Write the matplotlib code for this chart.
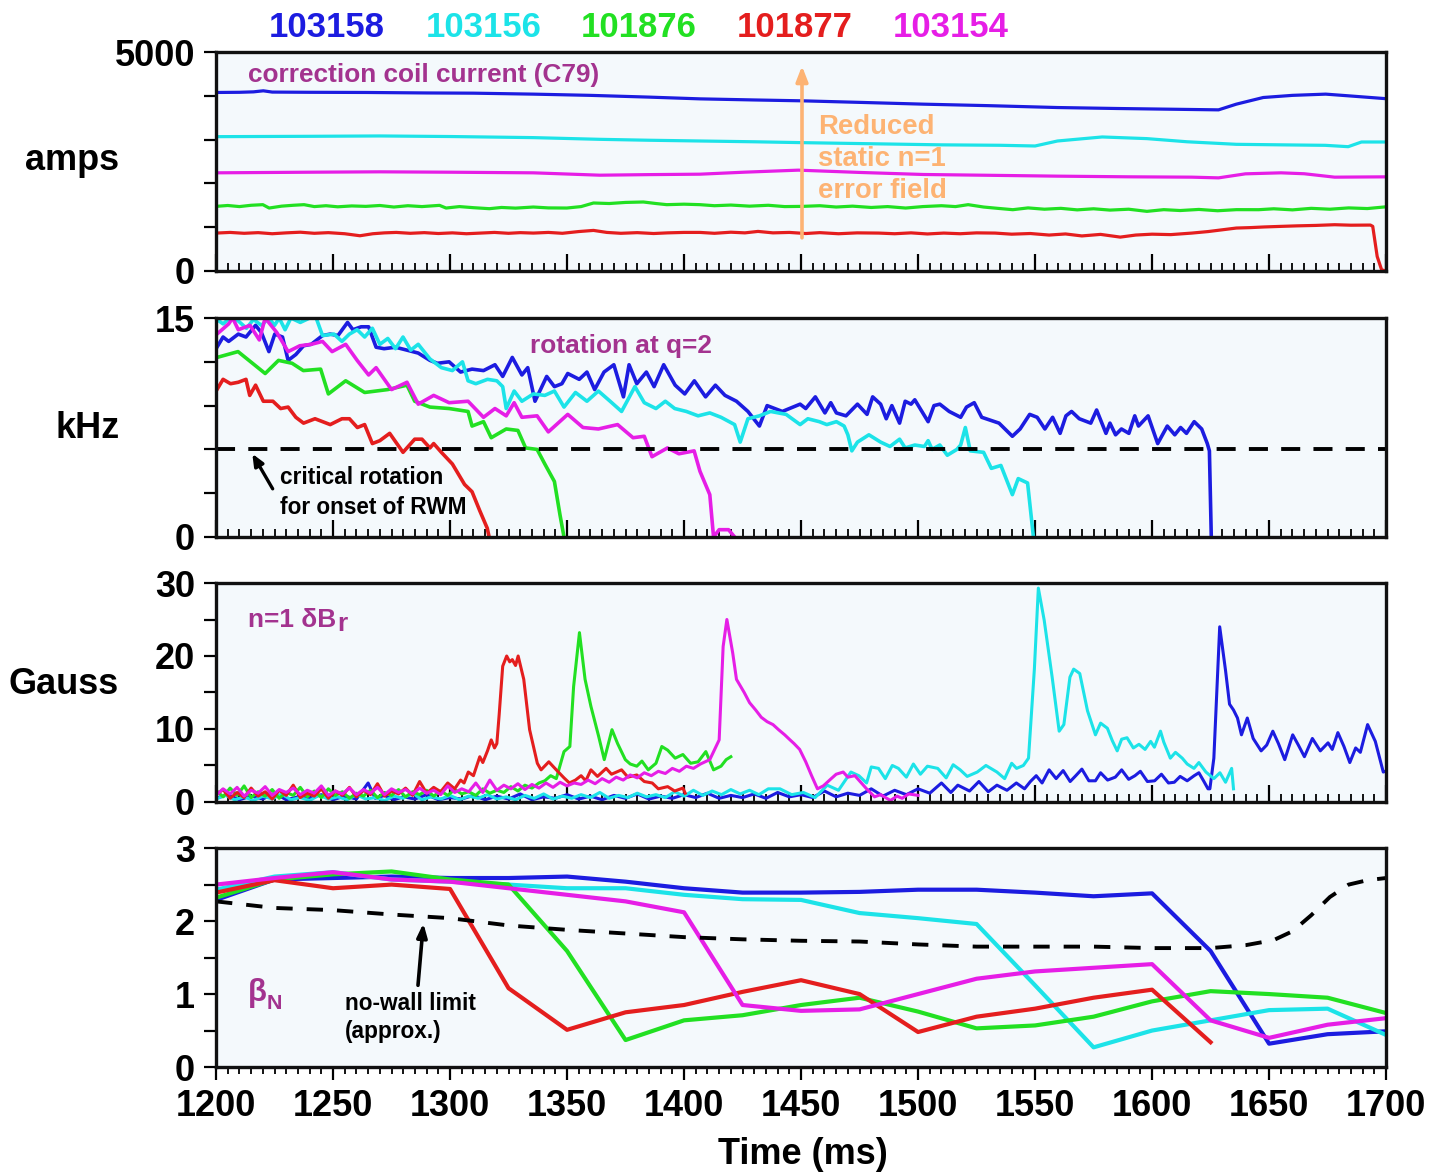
"""Shot comparison: correction coil current, q=2 rotation, n=1 dBr and beta_N vs time."""

import matplotlib

matplotlib.use("Agg")
import matplotlib.pyplot as plt
import numpy as np
from matplotlib import font_manager as fm
from matplotlib.ticker import MultipleLocator

# ---- shots and colours -------------------------------------------------------
SHOTS = ["103158", "103156", "101876", "101877", "103154"]
SHOT_COLORS = ["#1c1ce0", "#1ce3e8", "#22e022", "#e41e1e", "#e61ee6"]
LABEL_PURPLE = "#a3338f"
ARROW_ORANGE = "#fdb373"

# ---- correction coil current (A), (time ms, value) ---------------------------
COIL_103158 = [(1200, 4076), (1210, 4080), (1216, 4090), (1220.2, 4114), (1224, 4085),
               (1240, 4080), (1264.4, 4076), (1290, 4065), (1310, 4060), (1335.6, 4038),
               (1360, 4010), (1385, 3970), (1406.8, 3930), (1430, 3905), (1450.7, 3885),
               (1475, 3850), (1502.3, 3809), (1530, 3775), (1559.6, 3732), (1585, 3710),
               (1607.4, 3694), (1628.4, 3679), (1636, 3809), (1647.5, 3961), (1660, 4010),
               (1674.2, 4038), (1683.8, 4000), (1699, 3938)]
COIL_103156 = [(1200, 3067), (1240, 3075), (1270, 3083), (1300, 3070), (1335.6, 3045),
               (1364, 3006), (1385, 2985), (1406.8, 2968), (1430, 2950), (1450.7, 2930),
               (1480, 2905), (1510, 2880), (1535, 2870), (1550, 2854), (1559.6, 2968),
               (1578.7, 3060), (1597.8, 3022), (1615, 2950), (1636, 2892), (1655, 2880),
               (1674, 2869), (1683.8, 2838), (1689.5, 2945), (1699, 2945)]
COIL_101876 = [(1200, 1475), (1205, 1495), (1210, 1470), (1215, 1500), (1220, 1514),
               (1222.7, 1437), (1228, 1480), (1233, 1500), (1237.6, 1514), (1242, 1470),
               (1247, 1490), (1252, 1465), (1258, 1485), (1264, 1475), (1270, 1495),
               (1276, 1460), (1282, 1490), (1288, 1470), (1295.5, 1498), (1298.3, 1437),
               (1304, 1470), (1310, 1445), (1316.8, 1422), (1322, 1450), (1328, 1435),
               (1335.6, 1460), (1342, 1440), (1349.9, 1437), (1356, 1470), (1361.3, 1552),
               (1368, 1540), (1375, 1565), (1382.6, 1575), (1388, 1540), (1392.6, 1514),
               (1400, 1525), (1406.8, 1514), (1413, 1490), (1420, 1505), (1428, 1480),
               (1436, 1500), (1443, 1470), (1450.7, 1475), (1458, 1490), (1465, 1460),
               (1472, 1480), (1480, 1450), (1487, 1470), (1494.7, 1437), (1502, 1470),
               (1510, 1490), (1516, 1470), (1521.4, 1514), (1528, 1460), (1534, 1430),
               (1540.5, 1399), (1547, 1440), (1554, 1410), (1561, 1430), (1568, 1395),
               (1575, 1420), (1582, 1390), (1590, 1410), (1597.8, 1361), (1605, 1400),
               (1612, 1380), (1620, 1405), (1628, 1375), (1636, 1400), (1645.6, 1399),
               (1652, 1420), (1660, 1395), (1668, 1430), (1676, 1410), (1684, 1440),
               (1692, 1425), (1699, 1460)]
COIL_101877 = [(1200, 865), (1206, 880), (1212, 860), (1218, 875), (1224, 850), (1230, 870),
               (1236, 885), (1242, 860), (1248, 875), (1255, 850), (1261.5, 804), (1267, 850),
               (1272, 870), (1277, 880), (1283, 860), (1289, 875), (1295, 855), (1301, 870),
               (1307, 850), (1313, 865), (1319, 880), (1325, 860), (1330, 875), (1335.6, 865),
               (1342, 880), (1348, 860), (1355, 900), (1361.3, 926), (1367, 880), (1373, 860),
               (1380, 875), (1387, 855), (1393, 870), (1400, 880), (1406.8, 880), (1413, 860),
               (1420, 885), (1426, 870), (1431.6, 903), (1438, 870), (1445, 880), (1452, 855),
               (1458, 875), (1466, 850), (1474, 870), (1483.2, 865), (1490, 850), (1497, 870),
               (1504, 845), (1511, 865), (1518, 850), (1525, 870), (1532.9, 865), (1540, 840),
               (1548, 855), (1556, 820), (1563, 845), (1570, 800), (1578, 835), (1586.4, 773),
               (1593, 820), (1600, 840), (1608, 830), (1617, 865), (1624, 900), (1630, 940),
               (1636, 980), (1642, 990), (1648, 1005), (1655, 1018), (1662, 1030), (1670, 1040),
               (1678, 1056), (1685, 1045), (1693.3, 1048), (1694.3, 1018), (1696.2, 330),
               (1698.1, 25), (1700, 0)]
COIL_103154 = [(1200, 2241), (1240, 2255), (1270, 2264), (1300, 2255), (1335.6, 2241),
               (1364, 2187), (1385, 2200), (1406.8, 2210), (1425.9, 2256), (1448.8, 2302),
               (1475, 2250), (1502.3, 2203), (1530, 2185), (1559.6, 2165), (1590, 2150),
               (1617, 2142), (1628.4, 2126), (1639.9, 2218), (1655.1, 2241), (1665, 2220),
               (1678, 2142), (1699, 2149)]

# ---- toroidal rotation at q=2 (kHz) ------------------------------------------
ROT_103158 = [(1200.4, 13.0), (1203, 13.7), (1205.4, 13.4), (1209.5, 13.9), (1212.8, 13.7),
              (1216.9, 14.5), (1219.4, 14.0), (1222.6, 12.7), (1225.1, 13.9), (1228.4, 13.7),
              (1230.8, 12.1), (1234.1, 12.5), (1237.4, 13.1), (1240.7, 13.2), (1245.5, 13.8),
              (1248.8, 13.9), (1252.1, 13.8), (1256.2, 14.7), (1258.5, 14.2), (1262, 14.4),
              (1265.2, 14.4), (1268.4, 13.0), (1271.8, 12.9), (1276.7, 13.0), (1281.6, 12.8),
              (1286.4, 12.6), (1291.4, 12.1), (1294.6, 11.9), (1299.6, 12.0), (1304.5, 11.3),
              (1309.4, 11.5), (1314.3, 11.4), (1319.2, 11.8), (1322.5, 11.0), (1326.6, 12.3),
              (1330.7, 11.1), (1333.2, 11.6), (1336.3, 9.3), (1341.3, 11.0), (1344.6, 10.3),
              (1347.8, 10.5), (1350.3, 11.2), (1355.2, 10.8), (1358.5, 11.3), (1361.8, 10.1),
              (1365.8, 11.3), (1370, 11.8), (1374.1, 9.6), (1376.5, 11.8), (1379.8, 10.5),
              (1383.9, 11.3), (1387.2, 10.3), (1391.3, 11.8), (1396.2, 10.4), (1400.3, 9.8),
              (1404.4, 10.7), (1409.2, 9.6), (1413.4, 10.4), (1417.5, 9.7), (1422.4, 9.3),
              (1427.3, 8.6), (1432.2, 7.6), (1435.5, 9.0), (1442, 8.6), (1449.6, 9.1),
              (1452, 8.8), (1456.1, 9.6), (1460.2, 8.5), (1462.7, 9.2), (1465.1, 8.5),
              (1469.2, 8.3), (1474.1, 9.1), (1478.2, 8.4), (1480.6, 9.6), (1484, 9.1),
              (1486.4, 8.1), (1488.8, 9.0), (1492.1, 7.8), (1494.5, 9.3), (1497, 9.1),
              (1498.6, 9.4), (1504.3, 7.9), (1506.8, 9.0), (1509.3, 9.1), (1513.3, 8.6),
              (1518.2, 8.2), (1520.7, 8.9), (1524, 9.2), (1527.2, 8.2), (1534.6, 7.8),
              (1540.3, 6.9), (1543.6, 7.4), (1547.7, 8.4), (1550.9, 8.2), (1554.2, 7.4),
              (1557.5, 8.2), (1560.7, 7.1), (1563.2, 8.3), (1565.6, 8.6), (1568.9, 8.1),
              (1573.8, 7.8), (1576.3, 8.7), (1580.3, 7.1), (1582, 7.8), (1584.4, 7.0),
              (1586.9, 7.4), (1590.1, 7.1), (1592.6, 8.3), (1594.2, 7.6), (1598.3, 8.3),
              (1602.4, 6.4), (1606.5, 7.6), (1609.7, 7.0), (1612.2, 7.5), (1614.7, 7.1),
              (1618, 7.9), (1621.2, 7.4), (1623.6, 6.4), (1624.5, 5.9), (1625.3, 0.0)]
ROT_103156 = [(1200.4, 14.9), (1203, 14.6), (1206, 15.0), (1209.5, 14.8), (1213, 14.3),
              (1216, 14.9), (1219.4, 14.5), (1222.6, 15.0), (1225, 14.5), (1227, 15.0),
              (1229.5, 14.2), (1232, 15.0), (1236, 14.7), (1240, 15.0), (1242.8, 15.0),
              (1245.5, 13.8), (1250.4, 13.9), (1253.8, 13.4), (1257, 13.9), (1260.3, 14.2),
              (1263.5, 13.7), (1266.8, 14.3), (1270, 13.2), (1273.4, 13.6), (1276.7, 12.9),
              (1279.9, 13.7), (1283.2, 12.8), (1286.4, 13.2), (1291.4, 12.2), (1296.3, 11.6),
              (1301, 11.4), (1305.3, 12.0), (1307.7, 10.7), (1311, 10.5), (1316, 10.8),
              (1320, 10.7), (1322.5, 10.3), (1324, 8.8), (1327.4, 10.0), (1330.7, 9.3),
              (1335.6, 9.8), (1340.5, 9.7), (1344.6, 10.0), (1348.7, 8.9), (1353.6, 9.9),
              (1358.5, 9.3), (1363.4, 10.0), (1368.4, 9.3), (1373.3, 8.6), (1379, 10.3),
              (1383, 9.2), (1388, 8.8), (1392, 9.3), (1396, 8.8), (1401, 8.6), (1406, 8.3),
              (1411, 8.5), (1415.8, 8.2), (1421.6, 7.7), (1424, 6.5), (1427.3, 8.1),
              (1432.2, 8.3), (1437, 8.6), (1443.6, 8.4), (1449.6, 7.7), (1452.9, 8.1),
              (1457.8, 7.9), (1461, 7.7), (1465.1, 7.9), (1468.4, 7.6), (1470, 7.0),
              (1471.7, 5.9), (1474.1, 6.5), (1479, 7.0), (1484, 6.5), (1488, 6.2),
              (1492.1, 6.7), (1494.5, 6.1), (1498.6, 6.3), (1502.7, 6.2), (1504.3, 6.6),
              (1506, 6.0), (1509.3, 6.3), (1512.5, 5.6), (1516.6, 6.0), (1518.2, 6.3),
              (1520.2, 7.5), (1522.3, 5.9), (1528, 5.8), (1531.3, 4.7), (1535.4, 4.9),
              (1540.3, 2.9), (1542.8, 4.0), (1546.8, 3.7), (1549.3, 0.0)]
ROT_101876 = [(1200.4, 12.3), (1209.4, 12.7), (1221, 11.2), (1226.7, 12.1), (1232.5, 11.9),
              (1237.3, 11.4), (1244.7, 11.5), (1248, 9.8), (1255.4, 10.7), (1263.5, 9.9),
              (1273.4, 10.1), (1281.6, 10.4), (1284.9, 9.3), (1291.4, 8.9), (1299.6, 8.8),
              (1307.7, 8.6), (1309.4, 7.6), (1314.3, 7.9), (1317.6, 6.8), (1324, 7.4),
              (1329, 7.3), (1332.3, 6.1), (1337.2, 6.0), (1340.5, 5.0), (1344.6, 3.8),
              (1347, 1.5), (1348.7, 0.0)]
ROT_101877 = [(1200.4, 10.1), (1203, 10.8), (1206.2, 10.5), (1209.5, 10.6), (1212.8, 10.8),
              (1214.4, 9.7), (1216.9, 10.4), (1220.2, 9.3), (1224.3, 9.3), (1227.6, 8.8),
              (1230.8, 8.9), (1234.1, 8.2), (1237.4, 7.8), (1242.3, 8.1), (1248.8, 7.7),
              (1253.8, 8.1), (1257, 8.1), (1260.4, 7.5), (1263.5, 7.7), (1266.8, 6.4),
              (1270, 6.6), (1274.2, 7.1), (1279.9, 5.8), (1284.9, 6.7), (1288, 6.7),
              (1291.4, 6.1), (1293, 6.4), (1296.3, 5.8), (1301, 5.0), (1306.2, 3.6),
              (1309.4, 3.1), (1312.7, 1.8), (1315.9, 0.6), (1316.7, 0.0)]
ROT_103154 = [(1200.4, 13.9), (1205.4, 14.6), (1207.1, 15.0), (1209.5, 14.2), (1214.5, 14.5),
              (1218.5, 13.5), (1221, 15.0), (1226, 14.0), (1230.8, 12.7), (1235.8, 13.1),
              (1240.7, 13.2), (1245.5, 13.4), (1249.6, 12.7), (1255.4, 13.2), (1260.3, 12.1),
              (1265.2, 11.1), (1268.4, 11.6), (1275, 10.1), (1281.6, 10.6), (1286.4, 9.1),
              (1293, 9.7), (1299.6, 9.2), (1307.7, 9.3), (1314.3, 8.2), (1319.2, 8.8),
              (1324, 8.3), (1327.4, 9.2), (1330.7, 8.2), (1337.2, 8.3), (1342, 7.2),
              (1350.3, 8.4), (1356.8, 7.5), (1363.4, 7.4), (1371.6, 7.7), (1378.2, 6.8),
              (1383, 6.9), (1386.3, 5.5), (1392.9, 6.1), (1397.8, 5.7), (1404.3, 5.9),
              (1406.8, 4.5), (1411, 2.9), (1412.6, 0.0), (1415, 0.5), (1419, 0.5),
              (1421.6, 0.0)]
CRITICAL_ROTATION = 6.0

# ---- n=1 dBr (G) --------------------------------------------------------------
BR_103158 = [(1200, 0.5), (1205, 1.0), (1210, 0.3), (1215, 0.8), (1220, 0.4), (1225, 1.2),
             (1230, 0.3), (1235, 0.7), (1240, 0.5), (1245, 1.0), (1250, 0.3), (1255, 0.8),
             (1260, 0.4), (1265, 2.6), (1268, 0.5), (1272, 0.9), (1276, 0.3), (1280, 0.7),
             (1285, 0.4), (1290, 1.0), (1295, 0.3), (1300, 0.6), (1305, 0.4), (1310, 0.9),
             (1315, 0.3), (1320, 0.8), (1325, 0.4), (1330, 1.1), (1335, 0.3), (1340, 0.7),
             (1345, 0.5), (1350, 1.0), (1355, 0.4), (1360, 0.8), (1365, 0.3), (1370, 0.9),
             (1375, 0.5), (1380, 1.1), (1385, 0.4), (1390, 0.8), (1395, 0.5), (1400, 1.0),
             (1405, 0.6), (1410, 1.2), (1415, 0.5), (1420, 0.9), (1425, 0.6), (1430, 1.1),
             (1435, 0.5), (1440, 1.3), (1445, 0.7), (1450, 1.0), (1455, 0.6), (1460, 1.5),
             (1465, 0.7), (1470, 1.2), (1475, 0.9), (1480, 1.8), (1485, 0.8), (1490, 1.6),
             (1495, 1.0), (1500, 1.8), (1505, 1.2), (1510, 2.6), (1514, 1.3), (1517, 2.3),
             (1522, 1.5), (1526, 2.8), (1530, 1.4), (1533.7, 2.3), (1538, 1.6), (1542, 2.6),
             (1545.5, 1.8), (1548, 2.8), (1550.5, 3.6), (1553, 2.6), (1556, 4.4), (1559, 3.2),
             (1562, 4.3), (1565, 2.8), (1567.4, 3.6), (1570, 4.5), (1573, 2.9), (1575.8, 2.9),
             (1578, 4.0), (1581, 3.0), (1584.3, 3.4), (1587, 4.4), (1590, 3.1), (1592.7, 3.6),
             (1595, 4.2), (1598, 2.8), (1601.1, 2.9), (1604, 3.8), (1607, 2.6), (1609.5, 2.7),
             (1612, 3.5), (1615, 2.9), (1618, 3.6), (1620, 4.0), (1622, 2.9), (1623.9, 1.8),
             (1624.7, 1.8), (1626.4, 6.0), (1628.9, 24.0), (1631.4, 18.0), (1633.1, 13.4),
             (1634.8, 12.6), (1636.5, 11.5), (1638.2, 9.2), (1640.7, 11.5), (1643.2, 8.7),
             (1646.6, 7.0), (1649, 7.8), (1651.6, 9.7), (1654, 8.0), (1656.7, 5.8),
             (1660.1, 9.2), (1662.5, 7.8), (1665.1, 6.2), (1668.5, 8.7), (1671.9, 7.0),
             (1675.2, 8.1), (1677, 7.2), (1679.4, 9.5), (1682, 7.6), (1684.5, 5.4),
             (1687, 7.4), (1689, 6.8), (1692.1, 10.6), (1695.4, 8.3), (1698.8, 4.1),
             (1699.7, 4.2)]
BR_103156 = [(1200, 0.4), (1204, 0.9), (1208, 0.3), (1212, 0.7), (1216, 0.2), (1220, 0.8),
             (1224, 0.4), (1228, 1.1), (1232, 0.3), (1236, 0.6), (1240, 0.2), (1244, 0.9),
             (1248, 0.4), (1252, 0.7), (1256, 0.3), (1260, 1.0), (1264, 0.4), (1268, 0.6),
             (1272, 0.2), (1276, 0.8), (1280, 0.5), (1284, 1.2), (1288, 0.3), (1292, 0.7),
             (1296, 0.4), (1300, 0.9), (1304, 0.3), (1308, 0.8), (1312, 0.5), (1316, 1.0),
             (1320, 0.4), (1324, 0.7), (1328, 0.3), (1332, 0.9), (1336, 0.5), (1340, 1.1),
             (1344, 0.4), (1348, 0.8), (1352, 0.5), (1356, 1.0), (1360, 0.6), (1364, 1.3),
             (1368, 0.5), (1372, 0.9), (1376, 0.6), (1380, 1.2), (1384, 0.7), (1388, 1.0),
             (1392, 0.6), (1396, 1.4), (1400, 0.8), (1404, 1.6), (1408, 0.9), (1412, 1.5),
             (1416, 1.0), (1420, 1.7), (1424, 1.1), (1428, 1.6), (1432, 1.0), (1436, 1.8),
             (1441, 1.8), (1446, 1.0), (1451, 1.3), (1456, 0.6), (1461.2, 2.3), (1466, 1.6),
             (1471.3, 4.1), (1474.7, 3.6), (1478, 2.6), (1480, 4.8), (1483.1, 4.6), (1486, 3.2),
             (1489, 5.0), (1491.6, 4.6), (1495, 3.4), (1498, 5.2), (1501, 3.8), (1504, 4.9),
             (1508.4, 4.6), (1512, 3.3), (1515, 5.1), (1518, 4.4), (1521, 3.5), (1525.3, 4.1),
             (1529, 5.0), (1533.7, 4.1), (1537, 3.2), (1540, 5.3), (1542.1, 4.6), (1545, 5.0),
             (1547.2, 6.0), (1549.7, 18.2), (1551.4, 29.3), (1553.9, 24.9), (1557.3, 17.1),
             (1560.3, 9.7), (1562.3, 10.6), (1564.9, 17.1), (1566.5, 18.2), (1569.1, 17.6),
             (1572.4, 12.5), (1575.8, 9.2), (1578, 10.8), (1580.9, 10.1), (1583, 8.4),
             (1585.1, 7.0), (1587, 8.6), (1589.3, 8.8), (1592, 7.4), (1594.4, 7.9),
             (1597, 7.2), (1599.4, 8.3), (1601, 7.5), (1603.6, 9.7), (1605, 8.2),
             (1607.8, 6.0), (1610, 6.8), (1612.9, 6.0), (1615, 5.2), (1617.9, 4.6),
             (1620, 5.4), (1623, 4.1), (1626.4, 3.2), (1629, 4.0), (1631.4, 2.7),
             (1634, 4.6), (1634.8, 1.8)]
BR_101876 = [(1200, 1.6), (1203, 0.7), (1206, 1.9), (1209, 0.9), (1212, 2.2), (1215, 0.6),
             (1218, 1.4), (1221, 0.8), (1224, 1.7), (1227, 0.5), (1230, 1.3), (1233, 0.9),
             (1236, 2.0), (1239, 0.7), (1242, 1.5), (1245, 0.6), (1248, 1.8), (1251, 0.9),
             (1254, 1.4), (1257, 0.5), (1260, 1.2), (1263, 0.8), (1266, 1.6), (1269, 0.6),
             (1272, 1.3), (1275, 0.9), (1278, 1.7), (1281, 0.7), (1284, 1.4), (1287, 1.0),
             (1290, 1.6), (1293, 0.8), (1296, 1.5), (1299, 0.9), (1302, 1.7), (1305, 1.1),
             (1308, 1.4), (1311, 0.9), (1314, 1.8), (1317, 1.2), (1320, 1.6), (1323, 1.3),
             (1326, 2.1), (1329, 1.5), (1332, 2.3), (1335, 1.9), (1338, 2.6), (1340.5, 2.9),
             (1343, 3.6), (1345.4, 3.2), (1348.7, 6.9), (1351.2, 7.6), (1352.8, 15.8),
             (1355.3, 23.2), (1357.7, 16.8), (1360.2, 13.1), (1363.5, 9.0), (1365.9, 5.8),
             (1369.2, 9.9), (1371.6, 8.0), (1374.9, 5.8), (1377, 5.2), (1379.8, 4.9),
             (1382, 5.6), (1384.7, 4.4), (1388, 5.3), (1390.5, 7.6), (1393, 7.1),
             (1396.2, 6.0), (1399.5, 6.5), (1402.8, 5.3), (1406, 5.5), (1409.3, 6.9),
             (1412.6, 4.4), (1415.8, 4.9), (1418, 5.8), (1420, 6.2)]
BR_101877 = [(1200, 1.0), (1203, 1.7), (1206, 0.5), (1209, 1.3), (1212, 0.6), (1215, 1.9),
             (1218, 0.8), (1221, 1.4), (1224, 0.4), (1227, 1.6), (1230, 0.9), (1233, 2.3),
             (1236, 0.6), (1239, 1.2), (1242, 0.8), (1245, 1.8), (1248, 0.5), (1251, 1.5),
             (1254, 0.9), (1257, 2.0), (1260, 0.7), (1263, 1.6), (1266, 1.0), (1269, 2.5),
             (1272, 0.8), (1275, 1.5), (1278, 1.1), (1281, 1.9), (1284, 0.9), (1287, 2.8),
             (1290, 1.2), (1293, 2.0), (1296, 1.4), (1299, 2.6), (1302, 1.8), (1304.5, 3.0),
             (1306, 2.6), (1307.8, 4.1), (1310, 3.6), (1312.7, 6.2), (1314, 5.4), (1316, 7.0),
             (1317.6, 8.5), (1319, 7.4), (1320, 8.0), (1321, 12.0), (1322.5, 18.6),
             (1324.2, 20.0), (1325.5, 19.2), (1326.6, 19.5), (1328, 18.7), (1329.1, 20.0),
             (1331.5, 16.8), (1334, 9.9), (1337.3, 5.3), (1338.9, 4.4), (1342.2, 5.5),
             (1345.4, 4.4), (1348.7, 3.3), (1351, 2.6), (1353.6, 3.0), (1356, 3.6), (1358, 2.9),
             (1360.2, 4.4), (1363, 3.5), (1366.7, 4.6), (1369, 3.8), (1373.3, 4.4), (1376, 3.4),
             (1379.8, 3.7), (1383, 2.8), (1386.4, 2.6), (1389, 1.8), (1393, 2.1), (1396, 1.5),
             (1399.5, 1.9), (1400.5, 1.2)]
BR_103154 = [(1200, 0.9), (1203, 1.8), (1206, 1.1), (1209, 2.0), (1212, 0.8), (1215, 1.6),
             (1218, 1.2), (1221, 2.1), (1224, 0.9), (1227, 1.7), (1230, 1.3), (1233, 1.9),
             (1236, 1.0), (1239, 1.6), (1242, 1.2), (1245, 2.2), (1248, 0.9), (1251, 1.5),
             (1254, 1.1), (1257, 1.9), (1260, 1.0), (1263, 1.7), (1266, 1.2), (1269, 2.0),
             (1272, 1.0), (1275, 1.8), (1278, 1.3), (1281, 1.7), (1284, 1.1), (1287, 1.9),
             (1290, 1.2), (1293, 1.6), (1296, 1.0), (1299, 2.2), (1302, 1.3), (1305, 1.8),
             (1308, 1.4), (1311, 2.6), (1314, 1.3), (1317, 3.0), (1320, 1.6), (1323, 2.3),
             (1326, 1.8), (1329, 2.5), (1332, 1.7), (1335, 2.4), (1338, 1.9), (1341, 2.6),
             (1344, 2.0), (1347, 2.7), (1350, 2.2), (1353, 2.6), (1356, 2.4), (1359, 3.0),
             (1362, 2.5), (1365, 3.2), (1368, 2.7), (1371, 3.4), (1374, 3.0), (1377, 3.7),
             (1380, 3.3), (1383, 4.0), (1386, 3.6), (1389, 4.2), (1392, 3.9), (1395, 4.6),
             (1398, 4.2), (1401, 4.9), (1404, 4.6), (1407, 5.2), (1411, 5.8), (1415, 8.5),
             (1416.7, 21.3), (1418.3, 25.0), (1420.8, 20.4), (1422.4, 16.8), (1425.7, 15.0),
             (1428, 13.6), (1430.6, 12.6), (1433, 11.6), (1435.5, 11.0), (1438, 10.6),
             (1440.4, 9.9), (1443, 9.2), (1445.3, 8.5), (1447, 8.0), (1449.4, 7.2),
             (1452, 5.5), (1454.5, 3.6), (1457, 1.8), (1459.5, 2.2), (1462.9, 3.2),
             (1465, 3.8), (1468, 4.1), (1470, 3.4), (1473, 3.6), (1475.5, 2.7), (1478, 1.8),
             (1481.4, 0.7), (1484, 1.0), (1488.2, 0.2), (1491, 0.8), (1493.2, 0.5),
             (1496, 1.1), (1500, 0.9)]

# ---- beta_N, sampled every 25 ms ---------------------------------------------
BETA_T = [1200, 1225, 1250, 1275, 1300, 1325, 1350, 1375, 1400, 1425, 1450,
          1475, 1500, 1525, 1550, 1575, 1600, 1625, 1650, 1675, 1700]
BETA_103158 = [2.29, 2.57, 2.59, 2.61, 2.59, 2.59, 2.61, 2.54, 2.45, 2.39, 2.39,
               2.40, 2.43, 2.43, 2.39, 2.34, 2.38, 1.59, 0.32, 0.45, 0.49]
BETA_103156 = [2.43, 2.61, 2.67, 2.57, 2.54, 2.50, 2.45, 2.45, 2.36, 2.30, 2.29,
               2.11, 2.04, 1.96, 1.12, 0.27, 0.50, 0.64, 0.78, 0.80, 0.44]
BETA_101876 = [2.32, 2.57, 2.64, 2.68, 2.57, 2.50, 1.59, 0.37, 0.64, 0.71, 0.85,
               0.95, 0.76, 0.53, 0.57, 0.69, 0.90, 1.04, 1.00, 0.95, 0.74]
BETA_101877 = [2.39, 2.56, 2.45, 2.50, 2.44, 1.08, 0.51, 0.75, 0.85, 1.03, 1.19,
               1.00, 0.48, 0.69, 0.80, 0.95, 1.06, 0.34]
BETA_103154 = [2.50, 2.59, 2.67, 2.57, 2.54, 2.45, 2.36, 2.27, 2.12, 0.85, 0.77,
               0.79, 1.00, 1.21, 1.31, 1.36, 1.41, 0.64, 0.40, 0.58, 0.67]
NOWALL_T = [1200, 1225, 1250, 1275, 1300, 1325, 1350, 1375, 1400, 1425, 1450, 1475, 1500,
            1525, 1550, 1575, 1600, 1625, 1640, 1652, 1660, 1668, 1676, 1684, 1692, 1700]
NOWALL_BETA = [2.27, 2.18, 2.15, 2.09, 2.04, 1.94, 1.88, 1.83, 1.78, 1.75, 1.73, 1.72, 1.68,
               1.65, 1.65, 1.65, 1.63, 1.63, 1.67, 1.74, 1.86, 2.08, 2.33, 2.50, 2.56, 2.59]

T_MIN, T_MAX = 1200, 1700
AX_BG = "#f4f9fc"


def _xy(pairs):
    arr = np.asarray(pairs, dtype=float)
    return arr[:, 0], arr[:, 1]


def _narrow_font():
    """Condensed bold face for in-panel labels, falling back to the regular width."""
    try:
        fm.findfont(fm.FontProperties(family="Liberation Sans Narrow"),
                    fallback_to_default=False)
        return "Liberation Sans Narrow", 1.0
    except ValueError:
        return "Liberation Sans", 0.86


def _style_axis(ax, ylim, yticks, ylabels, tick_dir, show_xlabels):
    ax.set_facecolor(AX_BG)
    ax.set_xlim(T_MIN, T_MAX)
    ax.set_ylim(*ylim)
    ax.set_yticks(yticks)
    ax.set_yticklabels(ylabels)
    ax.xaxis.set_major_locator(MultipleLocator(50))
    ax.xaxis.set_minor_locator(MultipleLocator(5))
    for side in ax.spines.values():
        side.set_linewidth(2.4)
        side.set_color("#111111")
    if tick_dir == "in":
        ax.tick_params(axis="x", which="major", direction="in", length=12, width=1.6)
        ax.tick_params(axis="x", which="minor", direction="in", length=5.5, width=1.3)
    else:
        ax.tick_params(axis="x", which="major", direction="out", length=9, width=1.6, pad=7)
        ax.tick_params(axis="x", which="minor", direction="out", length=5, width=1.3)
    ax.tick_params(axis="x", top=False, labelbottom=show_xlabels, labelsize=26)
    ax.tick_params(axis="y", which="major", direction="out", length=9, width=1.6,
                   right=False, pad=6, labelsize=26)
    ax.tick_params(axis="y", which="minor", left=False, right=False)


def main():
    plt.rcParams["font.family"] = ["Liberation Sans", "DejaVu Sans"]
    plt.rcParams["font.weight"] = "bold"
    narrow, scale = _narrow_font()

    fig = plt.figure(figsize=(14.47, 11.74), dpi=100, facecolor="white")
    left, width, height = 0.1493, 0.8086, 0.1865
    ax_coil = fig.add_axes([left, 0.7692, width, height])
    ax_rot = fig.add_axes([left, 0.5426, width, height])
    ax_br = fig.add_axes([left, 0.3169, width, height])
    ax_beta = fig.add_axes([left, 0.0911, width, height])

    coil = [COIL_103158, COIL_103156, COIL_101876, COIL_101877, COIL_103154]
    rot = [ROT_103158, ROT_103156, ROT_101876, ROT_101877, ROT_103154]
    br = [BR_103158, BR_103156, BR_101876, BR_101877, BR_103154]
    beta = [BETA_103158, BETA_103156, BETA_101876, BETA_101877, BETA_103154]

    # panel 1: correction coil current
    for pairs, color in zip(coil, SHOT_COLORS):
        t, v = _xy(pairs)
        ax_coil.plot(t, v, color=color, lw=2.3)
    _style_axis(ax_coil, (0, 5000), np.arange(0, 5001, 1000),
                ["0", "", "", "", "", "5000"], "in", False)
    ax_coil.text(1213.7, 4470, "correction coil current (C79)", family=narrow,
                 fontsize=22 * scale, color=LABEL_PURPLE, va="center", ha="left")
    ax_coil.annotate("", xy=(1450.4, 4680), xytext=(1450.4, 757),
                     arrowprops=dict(arrowstyle="-|>,head_length=0.9,head_width=0.35",
                                     color=ARROW_ORANGE, lw=2.6, shrinkA=0, shrinkB=0))
    ax_coil.text(1457.3, 2546, "Reduced\nstatic n=1\nerror field", family=narrow,
                 fontsize=23 * scale, color=ARROW_ORANGE, va="center", ha="left",
                 linespacing=1.3)

    # panel 2: rotation at q=2
    for pairs, color in zip(rot, SHOT_COLORS):
        t, v = _xy(pairs)
        ax_rot.plot(t, v, color=color, lw=2.6)
    ax_rot.axhline(CRITICAL_ROTATION, color="black", lw=2.8, dashes=(4.9, 3.4))
    _style_axis(ax_rot, (0, 15), np.arange(0, 16, 3),
                ["0", "", "", "", "", "15"], "in", False)
    ax_rot.text(1334.2, 13.1, "rotation at q=2", family=narrow, fontsize=22 * scale,
                color=LABEL_PURPLE, va="center", ha="left")
    ax_rot.annotate("", xy=(1215.5, 5.7), xytext=(1224.2, 3.3),
                    arrowprops=dict(arrowstyle="-|>,head_length=0.7,head_width=0.3",
                                    color="black", lw=2.4, shrinkA=0, shrinkB=0))
    ax_rot.text(1227.4, 3.05, "critical rotation\nfor onset of RWM", family=narrow,
                fontsize=19 * scale, color="black", va="center", ha="left",
                linespacing=1.35)

    # panel 3: n=1 radial field perturbation
    for pairs, color in zip(br, SHOT_COLORS):
        t, v = _xy(pairs)
        ax_br.plot(t, v, color=color, lw=2.2)
    _style_axis(ax_br, (0, 30), np.arange(0, 31, 5),
                ["0", "", "10", "", "20", "", "30"], "in", False)
    br_txt = ax_br.text(1213.7, 24.9, "n=1 δB", family=narrow, fontsize=22 * scale,
                        color=LABEL_PURPLE, va="center", ha="left")
    ax_br.annotate("r", xy=(1.0, 0.0), xycoords=br_txt, xytext=(1, -3),
                   textcoords="offset points", family=narrow, fontsize=22 * scale,
                   color=LABEL_PURPLE, va="bottom", ha="left")

    # panel 4: beta_N with approximate no-wall limit
    for vals, color in zip(beta, SHOT_COLORS):
        ax_beta.plot(BETA_T[:len(vals)], vals, color=color, lw=3.0)
    ax_beta.plot(NOWALL_T, NOWALL_BETA, color="black", lw=2.8, dashes=(4.2, 3.6))
    _style_axis(ax_beta, (0, 3), np.arange(0, 3.01, 0.5),
                ["0", "", "1", "", "2", "", "3"], "out", True)
    ax_beta.set_xticks(np.arange(T_MIN, T_MAX + 1, 50))
    beta_txt = ax_beta.text(1213.7, 1.02, "β", family=narrow, fontsize=26 * scale,
                            color=LABEL_PURPLE, va="center", ha="left")
    ax_beta.annotate("N", xy=(1.0, 0.0), xycoords=beta_txt, xytext=(0, -4),
                     textcoords="offset points", family=narrow, fontsize=18 * scale,
                     color=LABEL_PURPLE, va="bottom", ha="left")
    ax_beta.annotate("", xy=(1288.6, 1.97), xytext=(1286.3, 1.12),
                     arrowprops=dict(arrowstyle="-|>,head_length=0.8,head_width=0.3",
                                     color="black", lw=2.6, shrinkA=0, shrinkB=0))
    ax_beta.text(1255.1, 0.68, "no-wall limit\n(approx.)", family=narrow,
                 fontsize=19 * scale, color="black", va="center", ha="left",
                 linespacing=1.3)

    # shot numbers across the top and axis titles
    for name, color, x in zip(SHOTS, SHOT_COLORS, [326.5, 484, 639, 794.5, 951]):
        fig.text(x / 1447, 0.977, name, color=color, fontsize=25, ha="center", va="center")
    fig.text(72 / 1447, 1 - 160 / 1174, "amps", fontsize=26, ha="center", va="center")
    fig.text(88 / 1447, 1 - 428 / 1174, "kHz", fontsize=26, ha="center", va="center")
    fig.text(64 / 1447, 1 - 685 / 1174, "Gauss", fontsize=26, ha="center", va="center")
    fig.text(803 / 1447, 1 - 1155 / 1174, "Time (ms)", fontsize=26, ha="center", va="center")

    fig.savefig("out.png", dpi=100, facecolor="white")
    plt.close(fig)


if __name__ == "__main__":
    main()
